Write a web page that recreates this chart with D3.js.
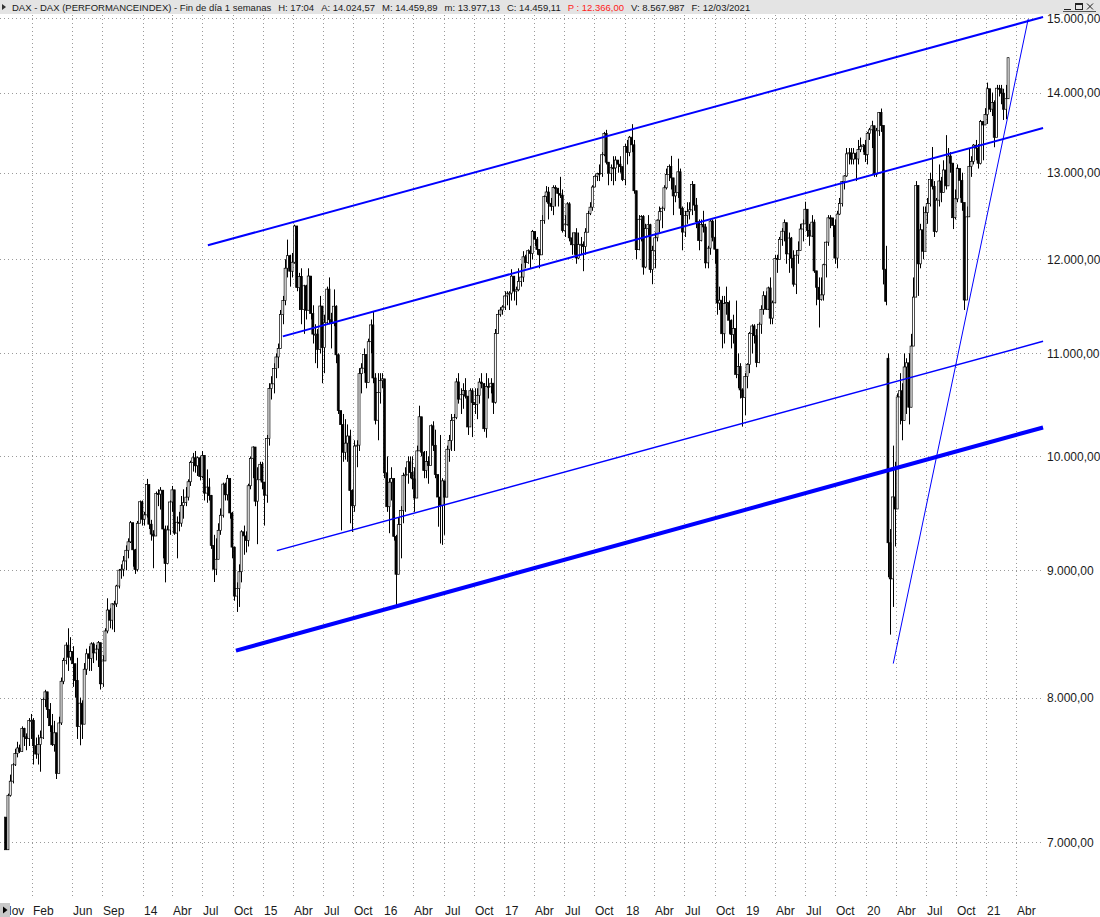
<!DOCTYPE html>
<html>
<head>
<meta charset="utf-8">
<script src="https://cdn.jsdelivr.net/npm/d3@7"></script>
<style>
  body { margin: 0; background: #fff; }
  svg { display: block; font-family: "Liberation Sans", Arial, sans-serif; }
</style>
</head>
<body>
<svg id="chart" width="1100" height="917"></svg>
<script>
// weekly DAX bars, first week starts Monday 12/11/2012
const firstOpen = 7163;
const closes = [
  6950, 7309, 7405, 7518, 7597, 7636, 7612, 7776,
  7715, 7702, 7833, 7833, 7652, 7593, 7661, 7708, 7986, 8043, 7913, 7795, 7659, 7744, 7459, 7815, 8122, 8279, 8398, 8305,
  8349, 8255, 8127, 7789, 7959, 7806, 8213, 8331, 8296, 8408, 8338, 8367, 8417, 8103, 8276, 8509, 8675, 8594, 8725, 8725,
  8870, 9001, 9009, 9078, 9168, 9240, 9405, 9172, 9006, 9400, 9589, 9435,
  9473, 9742, 9392, 9306, 9290, 9662, 9657, 9692, 9350, 9056, 9342, 9587, 9695, 9315, 9409, 9401, 9556, 9581, 9630, 9768,
  9943, 9987, 9913, 9987, 9815, 10009, 9666, 9720, 9644, 9210, 9009, 9092, 9339, 9470, 9747, 9651, 9799, 9490, 9195, 8788,
  8850, 8988, 9326, 9291, 9252, 9732, 9980, 10087, 9594, 9786, 9927, 9765,
  9648, 10167, 10649, 10694, 10846, 10963, 11050, 11402, 11551, 11901, 12040, 11868, 11967, 12375, 11689, 11811, 11454, 11709, 11447, 11815,
  11413, 11197, 11197, 11040, 11492, 11058, 11316, 11673, 11347, 11308, 11490, 10985, 10432, 10298, 10038, 10123, 10190, 9688, 9553, 10096,
  10104, 10795, 10850, 10988, 10708, 11119, 11293, 10752, 10340, 10608, 10727, 10743,
  9849, 9545, 9764, 9798, 9286, 8967, 9388, 9513, 9825, 9831, 9950, 9851, 9794, 9622, 10051, 10373, 10039, 9870, 9952, 9916,
  10287, 10103, 9834, 9631, 9558, 9776, 9630, 10066, 10147, 10337, 10367, 10713, 10544, 10587, 10627, 10573, 10276, 10626, 10511, 10490,
  10580, 10711, 10696, 10259, 10668, 10665, 10700, 10513, 11203, 11404, 11450, 11481,
  11599, 11629, 11630, 11814, 11651, 11666, 11757, 11804, 12027, 11963, 12095, 12064, 12313, 12225, 12109, 12049, 12438, 12717, 12770, 12638,
  12602, 12823, 12815, 12752, 12733, 12325, 12389, 12631, 12240, 12162, 12297, 12014, 12165, 12168, 12142, 12304, 12519, 12592, 12829, 12956,
  12992, 12991, 13218, 13479, 13127, 12993, 13060, 13058, 13153, 13103, 13073, 12918,
  13320, 13245, 13434, 13340, 12785, 12107, 12452, 12483, 11914, 12346, 12390, 11886, 12097, 12241, 12442, 12540, 12580, 12820, 12977, 13077,
  12938, 12724, 12766, 13011, 12580, 12306, 12497, 12541, 12561, 12861, 12616, 12424, 12210, 12394, 12364, 11960, 12124, 12431, 12247, 12112,
  11524, 11554, 11201, 11519, 11529, 11342, 11193, 11257, 10788, 10866, 10634, 10559,
  10767, 10888, 11205, 11282, 11181, 10907, 11300, 11457, 11602, 11458, 11686, 11364, 11526, 12010, 11999, 12222, 12315, 12413, 12060, 12238,
  12011, 11727, 12045, 12096, 12340, 12399, 12568, 12323, 12260, 12419, 11872, 11693, 11562, 11611, 11939, 12191, 12469, 12468, 12381, 12013,
  12512, 12634, 12895, 12961, 13229, 13242, 13164, 13236, 13166, 13282, 13318, 13337,
  13219, 13483, 13526, 13577, 12982, 13514, 13745, 13579, 11890, 11541, 9232, 8929, 9632, 9525, 10565, 10626, 10336, 10862, 10904, 10465,
  11074, 11587, 12848, 11949, 12331, 12089, 12528, 12634, 12920, 12838, 12313, 12674, 12901, 12765, 13033, 12843, 13202, 13116, 12470, 12690,
  13051, 12909, 12646, 11556, 12480, 13077, 13137, 13336, 13299, 13114, 13630, 13587, 13719,
  14050, 13787, 13874, 13433, 14057, 14050, 13993, 13786, 13921, 14459
];
const highs = [
  7160, 7320, 7450, 7530, 7630, 7680, 7660, 7790,
  7780, 7740, 7850, 7880, 7850, 7710, 7730, 7760, 8000, 8058, 8040, 7960, 7880, 7830, 7700, 7860, 8150, 8300, 8420, 8530,
  8460, 8390, 8250, 8300, 8000, 7980, 8260, 8370, 8390, 8420, 8420, 8400, 8430, 8400, 8320, 8530, 8770, 8690, 8730, 8750,
  8880, 9010, 9050, 9120, 9210, 9270, 9420, 9400, 9180, 9420, 9600, 9600,
  9500, 9794, 9740, 9430, 9340, 9680, 9700, 9720, 9600, 9380, 9380, 9600, 9730, 9650, 9460, 9500, 9640, 9700, 9720, 9790,
  9960, 10032, 10050, 10000, 10000, 10050, 10000, 9880, 9800, 9650, 9300, 9270, 9400, 9530, 9760, 9760, 9830, 9750, 9500, 9200,
  8900, 9050, 9340, 9380, 9330, 9750, 10000, 10093, 10050, 9900, 9950, 9950,
  9700, 10200, 10700, 10770, 10900, 11000, 11100, 11450, 11600, 12000, 12220, 12050, 12070, 12390, 12350, 11850, 11900, 11720, 11720, 11900,
  11800, 11500, 11300, 11250, 11600, 11200, 11400, 11700, 11800, 11420, 11670, 11500, 11000, 10400, 10400, 10350, 10300, 10250, 9700, 10150,
  10150, 10850, 10900, 11050, 10950, 11150, 11350, 11430, 10800, 10800, 10800, 10800,
  10700, 10000, 9800, 9900, 9800, 9300, 9450, 9550, 9850, 9900, 10000, 10000, 10000, 9900, 10100, 10480, 10350, 10050, 10050, 10000,
  10300, 10330, 10250, 9800, 10200, 9800, 9750, 10100, 10200, 10400, 10400, 10750, 10800, 10650, 10700, 10750, 10500, 10650, 10650, 10650,
  10650, 10750, 10800, 10700, 10800, 10750, 10750, 10700, 11250, 11450, 11480, 11500,
  11650, 11650, 11650, 11890, 11780, 11700, 11900, 11950, 12090, 12050, 12110, 12150, 12330, 12300, 12250, 12100, 12500, 12730, 12840, 12830,
  12700, 12850, 12850, 12800, 12951, 12800, 12500, 12650, 12650, 12300, 12300, 12350, 12300, 12250, 12200, 12350, 12550, 12650, 12850, 12980,
  13000, 13100, 13250, 13500, 13526, 13100, 13100, 13200, 13200, 13150, 13200, 13050,
  13350, 13400, 13450, 13597, 13400, 12700, 12500, 12500, 12500, 12400, 12500, 12400, 12150, 12300, 12450, 12600, 12600, 12850, 13050, 13100,
  13204, 12900, 12850, 13170, 13050, 12600, 12550, 12650, 12650, 12900, 12850, 12700, 12450, 12450, 12550, 12400, 12150, 12450, 12450, 12450,
  12050, 11700, 11600, 11600, 11700, 11550, 11350, 11400, 11550, 11000, 10900, 10650,
  10800, 10900, 11220, 11300, 11300, 11250, 11320, 11500, 11650, 11650, 11700, 11800, 11550, 12050, 12050, 12250, 12350, 12450, 12250, 12300,
  12250, 12100, 12100, 12200, 12400, 12450, 12656, 12550, 12400, 12500, 12450, 11800, 11800, 11800, 11950, 12200, 12500, 12500, 12450, 12450,
  12550, 12700, 12900, 12970, 13300, 13300, 13300, 13300, 13250, 13400, 13430, 13350,
  13400, 13500, 13550, 13640, 13500, 13550, 13750, 13795, 13500, 12150, 11000, 9350, 10100, 9950, 10600, 10800, 10700, 11000, 10950, 11000,
  11200, 11800, 12900, 12600, 12400, 12600, 12600, 12700, 13000, 13313, 12900, 12700, 13100, 12950, 13150, 13460, 13300, 13250, 13100, 12800,
  13100, 13050, 13000, 12600, 12600, 13300, 13200, 13350, 13400, 13350, 13650, 13600, 13800,
  14130, 14050, 14000, 13900, 14100, 14100, 14100, 14050, 14100, 14460
];
const lows = [
  6950, 6990, 7300, 7390, 7510, 7570, 7600, 7610,
  7650, 7620, 7650, 7700, 7520, 7560, 7520, 7470, 7700, 7930, 7850, 7750, 7650, 7610, 7420, 7460, 7800, 8100, 8250, 8200,
  8280, 8080, 8000, 7700, 7655, 7700, 7850, 8170, 8200, 8200, 8260, 8280, 8230, 8060, 8080, 8280, 8490, 8530, 8520, 8500,
  8700, 8850, 8930, 8950, 9000, 9100, 9230, 9030, 8970, 8990, 9400, 9380,
  9380, 9450, 9350, 9250, 9017, 9300, 9550, 9520, 9100, 8900, 9050, 9300, 9500, 9300, 9100, 9330, 9370, 9440, 9550, 9600,
  9730, 9860, 9850, 9820, 9780, 9800, 9600, 9580, 9600, 9180, 8903, 8960, 9100, 9300, 9450, 9600, 9600, 9440, 9100, 8750,
  8660, 8700, 8900, 9130, 9150, 9200, 9700, 9800, 9550, 9220, 9780, 9700,
  9380, 9580, 10100, 10540, 10600, 10750, 10850, 11050, 11300, 11500, 11800, 11700, 11800, 11950, 11650, 11450, 11300, 11200, 11350, 11450,
  11350, 11100, 10900, 10850, 11000, 10700, 10800, 11300, 11300, 11050, 11280, 10900, 10400, 9338, 9950, 9970, 9950, 9400, 9325, 9500,
  9900, 10050, 10600, 10800, 10650, 10750, 11000, 10700, 10300, 10150, 10500, 10650,
  9800, 9500, 9314, 9600, 9250, 8699, 9000, 9100, 9400, 9500, 9750, 9800, 9700, 9500, 9700, 10050, 10000, 9800, 9800, 9750,
  9950, 10050, 9800, 9370, 9226, 9214, 9300, 9650, 9950, 10050, 10050, 10350, 10500, 10400, 10450, 10550, 10200, 10300, 10180, 10400,
  10350, 10500, 10650, 10230, 10174, 10550, 10600, 10400, 10500, 11200, 11380, 11400,
  11450, 11500, 11450, 11550, 11550, 11500, 11650, 11700, 11750, 11900, 11950, 11900, 12000, 12150, 12050, 11900, 12300, 12400, 12650, 12450,
  12550, 12500, 12600, 12600, 12700, 12300, 12250, 12380, 12200, 12050, 12050, 11950, 12000, 12050, 11868, 12050, 12350, 12500, 12550, 12850,
  12900, 12900, 12950, 13200, 13100, 12850, 12900, 12850, 12900, 13000, 13000, 12900,
  12850, 13100, 13200, 13250, 12750, 12003, 12100, 12200, 11830, 11900, 12250, 11850, 11726, 11900, 12200, 12300, 12350, 12550, 12800, 12900,
  12800, 12500, 12650, 12700, 12500, 12100, 12250, 12400, 12450, 12500, 12550, 12350, 12100, 12200, 12300, 11900, 11900, 12050, 12200, 11950,
  11400, 11450, 11051, 11100, 11400, 11200, 11050, 11100, 10750, 10650, 10550, 10279,
  10390, 10650, 10800, 11000, 11100, 10860, 10900, 11200, 11400, 11450, 11450, 11300, 11300, 11550, 11850, 12000, 12150, 12200, 11950, 11850,
  11900, 11700, 11620, 11950, 12100, 12200, 12400, 12250, 12150, 12250, 11850, 11500, 11266, 11550, 11550, 11800, 12150, 12350, 12250, 11950,
  11900, 12500, 12600, 12800, 12950, 13100, 13100, 13100, 12900, 13100, 13250, 13250,
  13130, 13100, 13400, 13300, 12950, 12950, 13450, 13500, 11724, 11500, 8942, 8480, 8700, 9200, 9700, 10300, 10150, 10350, 10400, 10300,
  10500, 11100, 11600, 11600, 11900, 12000, 12100, 12400, 12600, 12800, 12250, 12300, 12600, 12650, 12800, 12800, 12900, 13000, 12340, 12450,
  12650, 12700, 12550, 11450, 11600, 12500, 12950, 13100, 13150, 13050, 13100, 13150, 13600,
  13600, 13750, 13700, 13310, 13450, 13950, 13850, 13650, 13660, 13977
];
// weeks that opened with a gap away from the prior close
const gapOpens = [["2020-03-09", 10950]];

const priceTicks = [7000, 8000, 9000, 10000, 11000, 12000, 13000, 14000, 15000];
const tickDates = [
  "2012-11-01", "2013-02-01", "2013-06-01", "2013-09-01",
  "2014-01-01", "2014-04-01", "2014-07-01", "2014-10-01",
  "2015-01-01", "2015-04-01", "2015-07-01", "2015-10-01",
  "2016-01-01", "2016-04-01", "2016-07-01", "2016-10-01",
  "2017-01-01", "2017-04-01", "2017-07-01", "2017-10-01",
  "2018-01-01", "2018-04-01", "2018-07-01", "2018-10-01",
  "2019-01-01", "2019-04-01", "2019-07-01", "2019-10-01",
  "2020-01-01", "2020-04-01", "2020-07-01", "2020-10-01",
  "2021-01-01", "2021-04-01"
];
const tickLabels = [
  "Nov", "Feb", "Jun", "Sep",
  "14", "Abr", "Jul", "Oct", "15", "Abr", "Jul", "Oct",
  "16", "Abr", "Jul", "Oct", "17", "Abr", "Jul", "Oct",
  "18", "Abr", "Jul", "Oct", "19", "Abr", "Jul", "Oct",
  "20", "Abr", "Jul", "Oct", "21", "Abr"
];

// trend lines drawn by hand on the chart: [date, value] end points
const trendLines = [
  { from: ["2014-07-18", 12156], to: ["2021-06-22", 15014], width: 2 },
  { from: ["2015-03-02", 11174], to: ["2021-06-22", 13548], width: 2 },
  { from: ["2015-02-12", 9165], to: ["2021-06-22", 11123], width: 1.5 },
  { from: ["2014-10-11", 8355], to: ["2021-06-22", 10271], width: 4 },
  { from: ["2020-03-25", 8256], to: ["2021-05-08", 14986], width: 1 }
];

const headerParts = [
  { t: "DAX - DAX (PERFORMANCEINDEX) - Fin de día 1 semanas", c: "#1a1a1a" },
  { t: "H: 17:04", c: "#1a1a1a" },
  { t: "A: 14.024,57", c: "#1a1a1a" },
  { t: "M: 14.459,89", c: "#1a1a1a" },
  { t: "m: 13.977,13", c: "#1a1a1a" },
  { t: "C: 14.459,11", c: "#1a1a1a" },
  { t: "P : 12.366,00", c: "#ff2020" },
  { t: "V: 8.567.987", c: "#1a1a1a" },
  { t: "F: 12/03/2021", c: "#1a1a1a" }
];

const W = 1100, H = 917;
const plotRight = 1044, plotTop = 15, plotBottom = 897;
const svg = d3.select("#chart");
const parse = d3.timeParse("%Y-%m-%d");
const es = d3.formatLocale({ decimal: ",", thousands: ".", grouping: [3], currency: ["", ""] });
const fmt = es.format(",.2f");

const x = d3.scaleTime().domain([new Date(2012, 10, 1), new Date(2021, 3, 1)]).range([2, 1016]);
const y = d3.scaleLog().domain([7000, 15000]).range([842, 18]);

const gapMap = new Map(gapOpens.map(g => [+parse(g[0]), g[1]]));
const bars = closes.map(function(c, i) {
  const date = new Date(2012, 10, 12 + 7 * i);
  const o = gapMap.has(+date) ? gapMap.get(+date) : (i ? closes[i - 1] : firstOpen);
  return {
    date: date,
    open: o, close: c,
    high: Math.max(highs[i], o, c),
    low: Math.min(lows[i], o, c)
  };
});

svg.append("defs").append("clipPath").attr("id", "plotClip")
  .append("rect").attr("x", 0).attr("y", plotTop).attr("width", plotRight).attr("height", plotBottom - plotTop);

// grid
const grid = svg.append("g").attr("stroke", "#9a9a9a").attr("stroke-width", 1).attr("stroke-dasharray", "1,3");
grid.selectAll("line.h").data(priceTicks).enter().append("line")
  .attr("x1", 0).attr("x2", plotRight)
  .attr("y1", d => Math.round(y(d)) + 0.5).attr("y2", d => Math.round(y(d)) + 0.5);
grid.selectAll("line.v").data(tickDates.slice(1)).enter().append("line")
  .attr("x1", d => Math.round(x(parse(d))) + 0.5).attr("x2", d => Math.round(x(parse(d))) + 0.5)
  .attr("y1", plotTop).attr("y2", plotBottom);

// candles
const candles = svg.append("g").attr("clip-path", "url(#plotClip)");
candles.selectAll("line").data(bars).enter().append("line")
  .attr("x1", d => Math.round(x(d.date)) + 0.5).attr("x2", d => Math.round(x(d.date)) + 0.5)
  .attr("y1", d => y(d.high)).attr("y2", d => y(d.low))
  .attr("stroke", "#000").attr("stroke-width", 1);
candles.selectAll("rect").data(bars).enter().append("rect")
  .attr("x", d => x(d.date) - 1)
  .attr("width", 2)
  .attr("y", d => y(Math.max(d.open, d.close)))
  .attr("height", d => Math.max(1, Math.abs(y(d.open) - y(d.close))))
  .attr("fill", d => d.close >= d.open ? "#fff" : "#000")
  .attr("stroke", "#000").attr("stroke-width", 0.7);

// trend lines
svg.append("g").attr("clip-path", "url(#plotClip)")
  .selectAll("line").data(trendLines).enter().append("line")
  .attr("x1", d => x(parse(d.from[0]))).attr("y1", d => y(d.from[1]))
  .attr("x2", d => x(parse(d.to[0]))).attr("y2", d => y(d.to[1]))
  .attr("stroke", "#0000ff").attr("stroke-width", d => d.width);

// price axis
svg.append("g").selectAll("text").data(priceTicks).enter().append("text")
  .attr("x", 1047).attr("y", d => y(d) + 4.5)
  .attr("font-size", 12).attr("fill", "#1a1a1a")
  .text(d => fmt(d));

// date axis
svg.append("g").selectAll("text").data(tickDates).enter().append("text")
  .attr("x", d => Math.round(x(parse(d))) + 1).attr("y", 915)
  .attr("font-size", 12).attr("fill", "#1a1a1a")
  .text((d, i) => tickLabels[i]);

// bottom-left scroll button
svg.append("rect").attr("x", 0).attr("y", 903).attr("width", 10).attr("height", 14).attr("fill", "#c8c8c8");
svg.append("path").attr("d", "M3,906.5L7.5,910L3,913.5Z").attr("fill", "#000");

// header bar
svg.append("rect").attr("x", 0).attr("y", 0).attr("width", W).attr("height", 14).attr("fill", "#e4e4e4");
svg.append("path").attr("d", "M2,4L6,7L2,10Z").attr("fill", "#333");
const header = svg.append("g").attr("font-size", 9.5);
let hx = 12;
headerParts.forEach(function(p) {
  const t = header.append("text").attr("x", hx).attr("y", 10.5).attr("fill", p.c).text(p.t);
  hx += t.node().getComputedTextLength() + 7;
});

// window buttons
const wb = svg.append("g").attr("stroke", "#222").attr("fill", "none").attr("stroke-width", 1);
wb.append("line").attr("x1", 1064).attr("x2", 1071).attr("y1", 9.5).attr("y2", 9.5);
wb.append("rect").attr("x", 1075.5).attr("y", 3.5).attr("width", 7).attr("height", 6);
wb.append("line").attr("x1", 1075.5).attr("x2", 1082.5).attr("y1", 4.5).attr("y2", 4.5);
wb.append("path").attr("d", "M1087,3.5L1093,9.5M1093,3.5L1087,9.5");
wb.append("line").attr("x1", 1063).attr("x2", 1096).attr("y1", 11.5).attr("y2", 11.5).attr("stroke", "#555");
</script>
</body>
</html>
